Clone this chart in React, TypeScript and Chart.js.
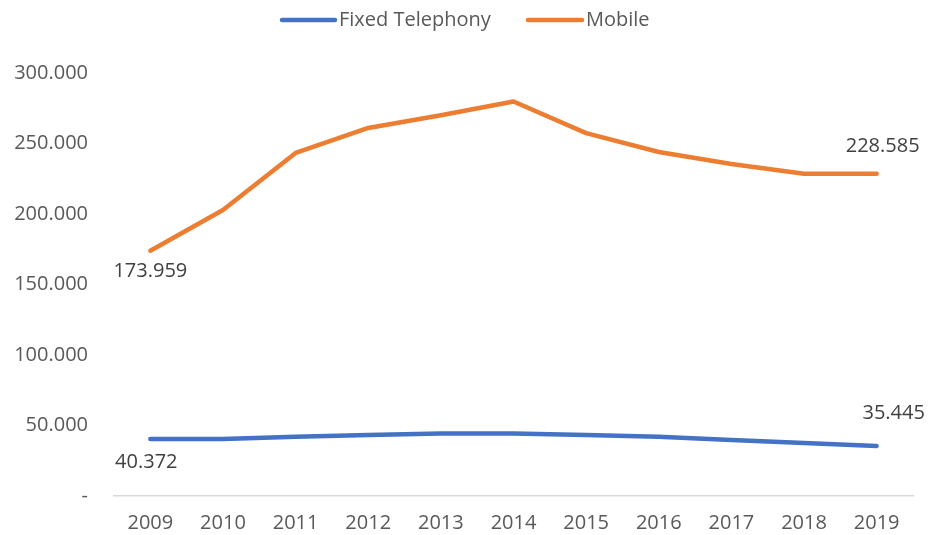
import React, { useEffect, useRef } from "react";
import { Chart, registerables } from "chart.js";

Chart.register(...registerables);

const years = ["2009", "2010", "2011", "2012", "2013", "2014", "2015", "2016", "2017", "2018", "2019"];
const fixedTelephony = [40372, 40500, 42000, 43300, 44400, 44400, 43300, 42000, 39700, 37600, 35445];
const mobile = [173959, 202800, 243300, 261000, 270000, 279800, 257400, 244000, 235500, 228600, 228585];
const yTicks = [0, 50000, 100000, 150000, 200000, 250000, 300000];

const FONT = "'Open Sans', 'Liberation Sans', sans-serif";

const fmt = (v: number) => (v === 0 ? "-" : Math.round(v).toLocaleString("de-DE"));

// label placements: [datasetIndex, pointIndex, dx, dy]
const labelSpots: [number, number, number, number][] = [
  [1, 0, 0, 21],
  [1, 10, 6, -27],
  [0, 0, -4, 23],
  [0, 10, 17, -33],
];

const dataLabelPlugin = {
  id: "edgeLabels",
  afterDatasetsDraw(chart: any) {
    const ctx = chart.ctx;
    ctx.save();
    ctx.font = `20px ${FONT}`;
    ctx.fillStyle = "#404040";
    ctx.textAlign = "center";
    ctx.textBaseline = "middle";
    for (const [di, pi, dx, dy] of labelSpots) {
      const meta = chart.getDatasetMeta(di);
      const pt = meta.data[pi];
      const v = chart.data.datasets[di].data[pi] as number;
      ctx.fillText(fmt(v), pt.x + dx, pt.y + dy);
    }
    ctx.restore();
  },
};

// legend drawn at top centre: [sampleStartX, sampleLength] per dataset
const legendSpots: [number, number][] = [
  [282, 53],
  [528, 54],
];

const legendPlugin = {
  id: "topLegend",
  afterDraw(chart: any) {
    const ctx = chart.ctx;
    ctx.save();
    ctx.font = `20px ${FONT}`;
    ctx.fillStyle = "#595959";
    ctx.textAlign = "left";
    ctx.textBaseline = "middle";
    const y = 20;
    chart.data.datasets.forEach((ds: any, i: number) => {
      const [x0, len] = legendSpots[i];
      ctx.strokeStyle = ds.borderColor;
      ctx.lineWidth = 4.5;
      ctx.lineCap = "round";
      ctx.beginPath();
      ctx.moveTo(x0, y);
      ctx.lineTo(x0 + len, y);
      ctx.stroke();
      ctx.fillText(ds.label, x0 + len + 4, y);
    });
    ctx.restore();
  },
};

export default function App() {
  const ref = useRef<HTMLCanvasElement>(null);
  useEffect(() => {
    document.body.style.margin = "0";
    const chart = new Chart(ref.current!, {
      type: "line",
      data: {
        labels: years,
        datasets: [
          {
            label: "Fixed Telephony",
            data: fixedTelephony,
            borderColor: "#4472C4",
            backgroundColor: "#4472C4",
            borderWidth: 4.5,
            pointRadius: 0,
            tension: 0,
            borderCapStyle: "round",
            borderJoinStyle: "round",
          },
          {
            label: "Mobile",
            data: mobile,
            borderColor: "#ED7D31",
            backgroundColor: "#ED7D31",
            borderWidth: 4.5,
            pointRadius: 0,
            tension: 0,
            borderCapStyle: "round",
            borderJoinStyle: "round",
          },
        ],
      },
      options: {
        animation: false,
        responsive: false,
        maintainAspectRatio: false,
        layout: { padding: { top: 73, right: 16, bottom: 0, left: 0 } },
        plugins: {
          tooltip: { enabled: false },
          legend: { display: false },
        },
        scales: {
          x: {
            offset: true,
            afterFit: (s: any) => {
              s.height = 39;
            },
            grid: { display: false, drawTicks: false },
            border: { display: true, color: "#D9D9D9", width: 1.5 },
            ticks: { color: "#595959", font: { family: FONT, size: 20 }, padding: 15 },
          },
          y: {
            min: 0,
            max: 300000,
            afterBuildTicks: (s: any) => {
              s.ticks = yTicks.map((v) => ({ value: v }));
            },
            afterFit: (s: any) => {
              s.width = 114;
            },
            grid: { display: false, drawTicks: false },
            border: { display: false },
            ticks: {
              color: "#595959",
              font: { family: FONT, size: 20 },
              padding: 26,
              callback: (v: any) => fmt(Number(v)),
            },
          },
        },
      },
      plugins: [dataLabelPlugin, legendPlugin],
    });
    return () => chart.destroy();
  }, []);
  return <canvas ref={ref} width={929} height={535} style={{ display: "block" }} />;
}
